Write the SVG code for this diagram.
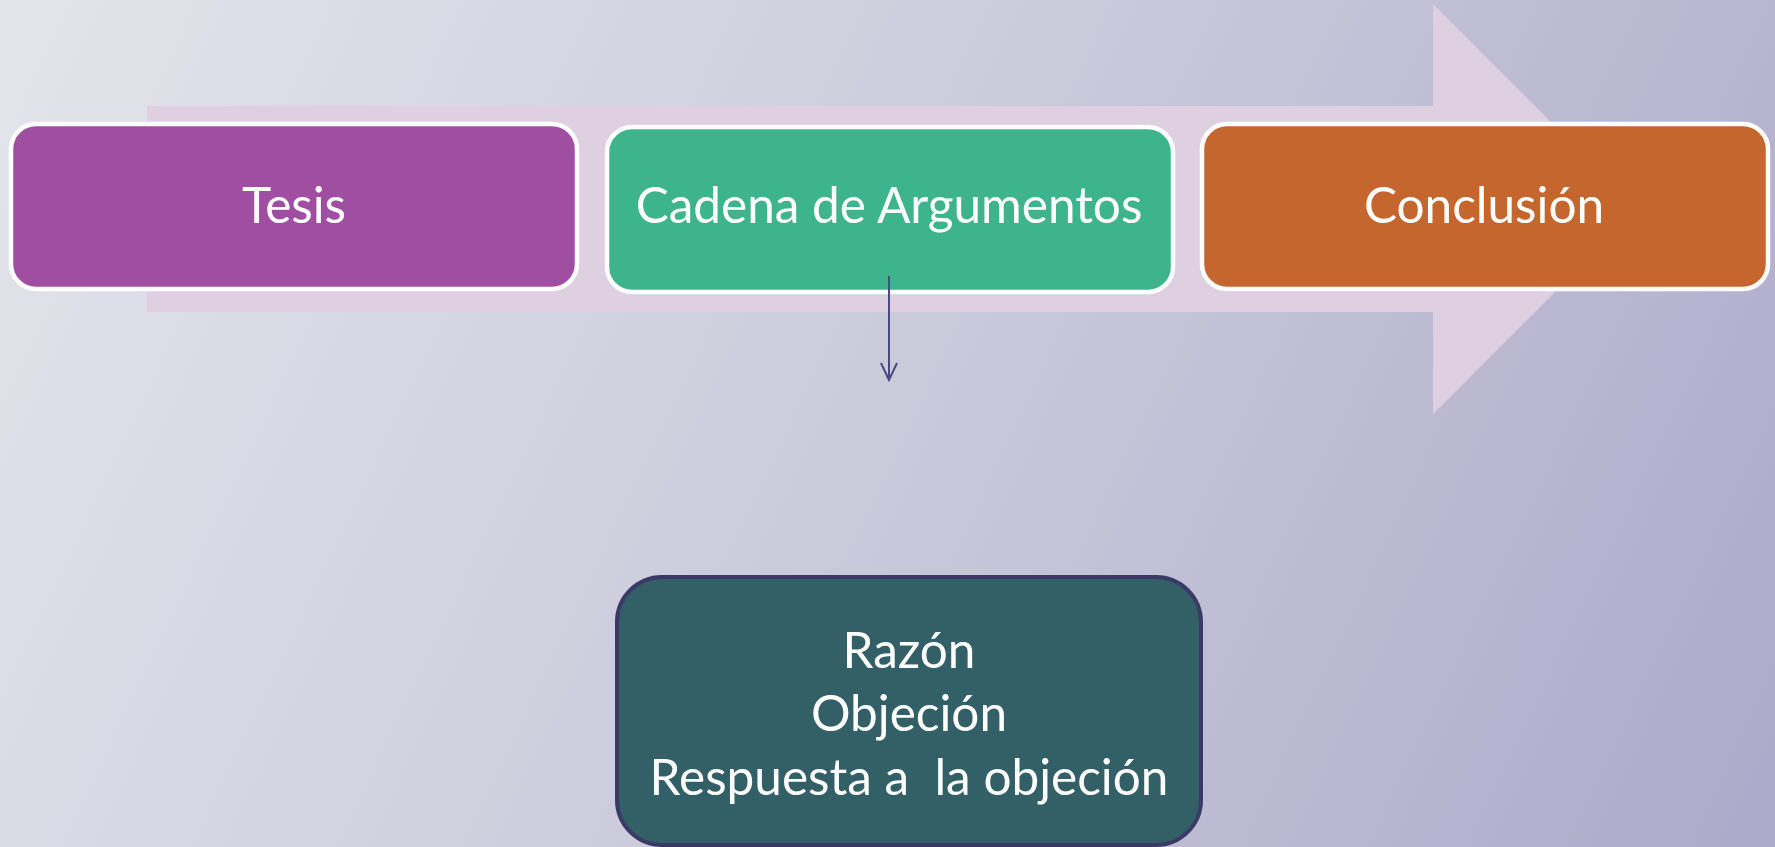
<svg xmlns="http://www.w3.org/2000/svg" width="1775" height="847" viewBox="0 0 1775 847">
  <defs>
    <linearGradient id="bg" x1="0" y1="0" x2="1775" y2="847" gradientUnits="userSpaceOnUse">
      <stop offset="0" stop-color="#E4E4EC"/>
      <stop offset="0.5" stop-color="#CBCADB"/>
      <stop offset="1" stop-color="#ACA9CA"/>
    </linearGradient>
    <marker id="open" viewBox="0 0 20 20" refX="18" refY="10" markerWidth="20" markerHeight="20" markerUnits="userSpaceOnUse" orient="auto">
      <path d="M1,2 L18,10 L1,18" fill="none" stroke="#4B4A80" stroke-width="2"/>
    </marker>
    <style>
      .top { stroke: #FFFFFF; stroke-width: 4.5; }
      .lbl { font-family: Lato, "Open Sans", "Liberation Sans", sans-serif; font-size: 49.5px; fill: #FFFFFF; text-anchor: middle; }
    </style>
  </defs>
  <rect x="0" y="0" width="1775" height="847" fill="url(#bg)"/>
  <g id="bigArrow">
    <polygon points="147,106 1433,106 1433,4 1638,209 1433,414 1433,312 147,312" fill="#DED0E0"/>
  </g>
  <g id="tesis">
    <rect class="top" x="11" y="124" width="566" height="165" rx="25" fill="#A04EA2"/>
    <text class="lbl" x="294" y="223">Tesis</text>
  </g>
  <g id="cadena">
    <rect class="top" x="607" y="127" width="566" height="165" rx="25" fill="#3DB48C"/>
    <text class="lbl" x="889" y="223">Cadena de Argumentos</text>
  </g>
  <g id="conclusion">
    <rect class="top" x="1202" y="124" width="566" height="165" rx="25" fill="#C4662E"/>
    <text class="lbl" x="1484" y="223">Conclusión</text>
  </g>
  <g id="detalle">
    <rect x="617" y="577" width="584" height="268" rx="45" fill="#336066" stroke="#3B3A66" stroke-width="4"/>
    <text class="lbl" x="909" y="668">Razón</text>
    <text class="lbl" x="909" y="731">Objeción</text>
    <text class="lbl" x="909" y="795" xml:space="preserve">Respuesta a  la objeción</text>
  </g>
  <g id="connectors">
    <line x1="889" y1="276" x2="889" y2="380" stroke="#4B4A80" stroke-width="2" marker-end="url(#open)"/>
  </g>
</svg>
